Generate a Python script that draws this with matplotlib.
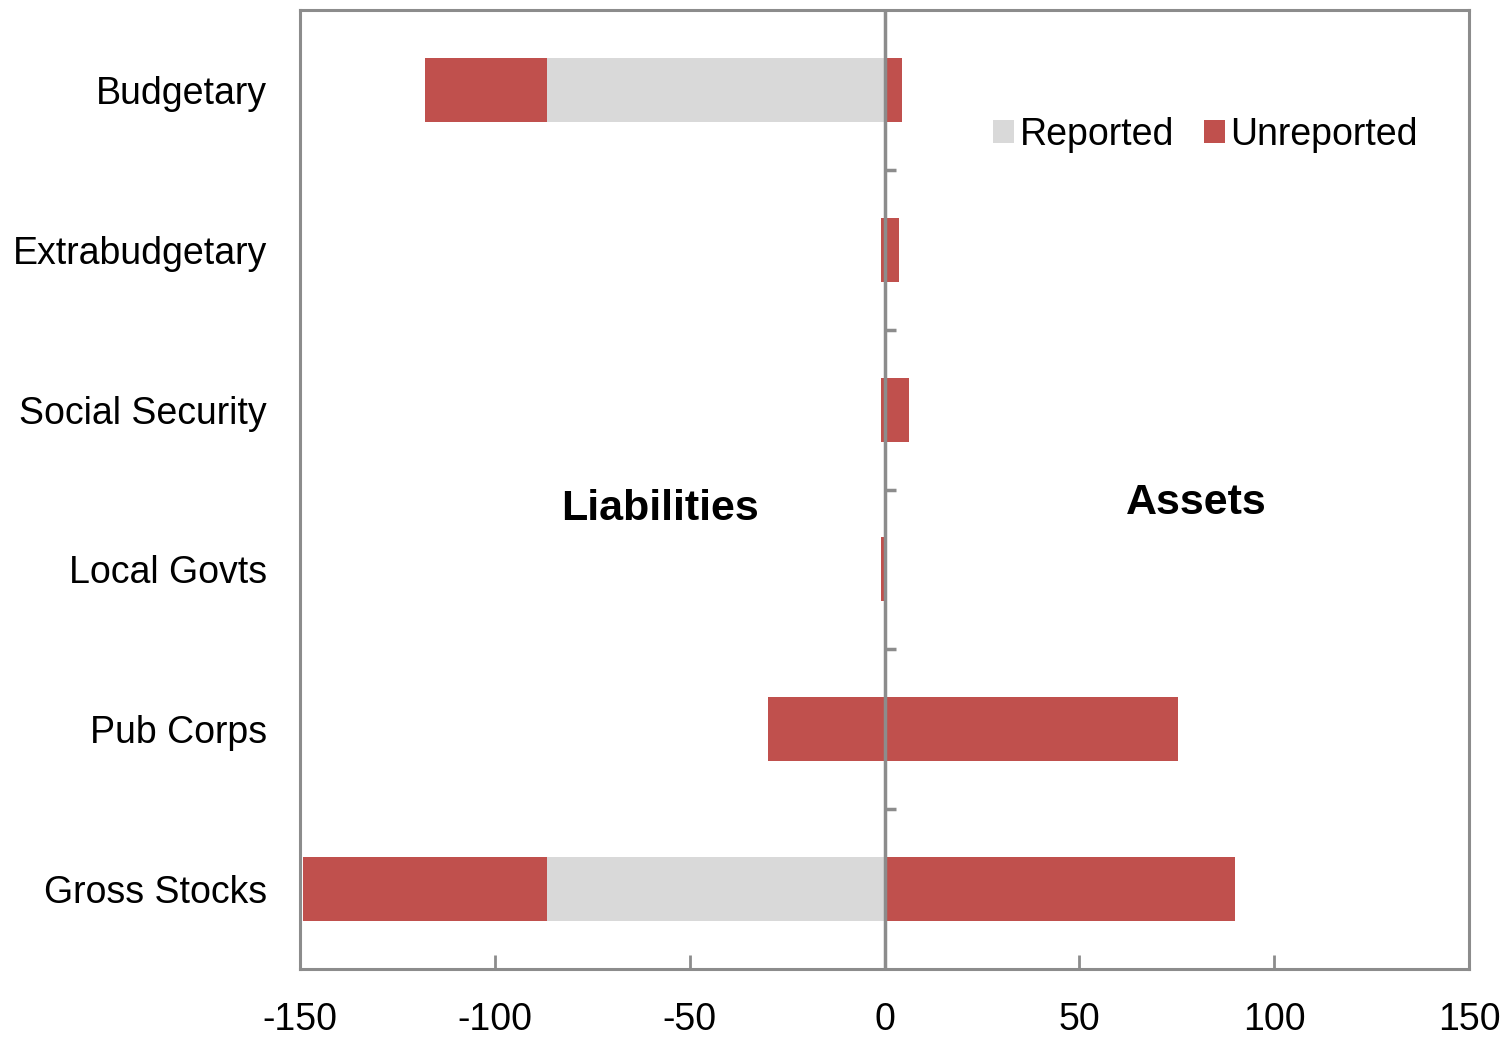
import numpy as np
import matplotlib.pyplot as plt

plt.rcParams['font.family'] = ['Liberation Sans', 'DejaVu Sans']

# data
categories = ['Budgetary', 'Extrabudgetary', 'Social Security', 'Local Govts', 'Pub Corps', 'Gross Stocks']
liab_reported = [-86.5, 0, 0, 0, 0, -86.5]
liab_unreported = [-31.5, -1.0, -1.0, -1.0, -30.0, -62.8]
assets_unreported = [4.6, 3.8, 6.2, 0.0, 75.4, 89.9]
xticks = [-150, -100, -50, 0, 50, 100, 150]

red = '#C0504D'
grey = '#D9D9D9'
axis_col = '#8C8C8C'

fig = plt.figure(figsize=(15.09, 10.39), dpi=100)
ax = fig.add_axes([300/1509, 1-969/1039, 1169/1509, 959/1039])

y = np.arange(len(categories))
h = 0.4
ax.barh(y, liab_reported, height=h, color=grey, label='Reported', zorder=2)
ax.barh(y, liab_unreported, left=liab_reported, height=h, color=red, label='Unreported', zorder=2)
ax.barh(y, assets_unreported, height=h, color=red, zorder=2)

# zero line with small category-boundary ticks
ax.axvline(0, color=axis_col, lw=2.5, zorder=3)
bounds = y[:-1] + 0.5
ax.hlines(bounds, 0, 2.9, color=axis_col, lw=2.5, zorder=3)

ax.set_xlim(-150, 150)
ax.set_ylim(len(categories) - 0.5, -0.5)
ax.set_xticks(xticks)
ax.set_xticklabels([str(t) for t in xticks], fontsize=27)
ax.set_yticks(y)
ax.set_yticklabels(categories, fontsize=27)
ax.tick_params(axis='y', length=0, pad=24)
ax.tick_params(axis='x', direction='in', length=10, width=2, color=axis_col, pad=24)

for s in ax.spines.values():
    s.set_color(axis_col)
    s.set_linewidth(2.2)

ax.text(-57.7, 2.62, 'Liabilities', fontsize=31, fontweight='bold', ha='center', va='center')
ax.text(80, 2.585, 'Assets', fontsize=31, fontweight='bold', ha='center', va='center')

handles, labels = ax.get_legend_handles_labels()
ax.legend(handles, labels, ncol=2, fontsize=27, frameon=False,
          loc='upper right', bbox_to_anchor=(0.985, 0.924),
          handlelength=0.55, handleheight=0.55, handletextpad=0.15, columnspacing=0.8)

fig.savefig('out.png', dpi=100)
